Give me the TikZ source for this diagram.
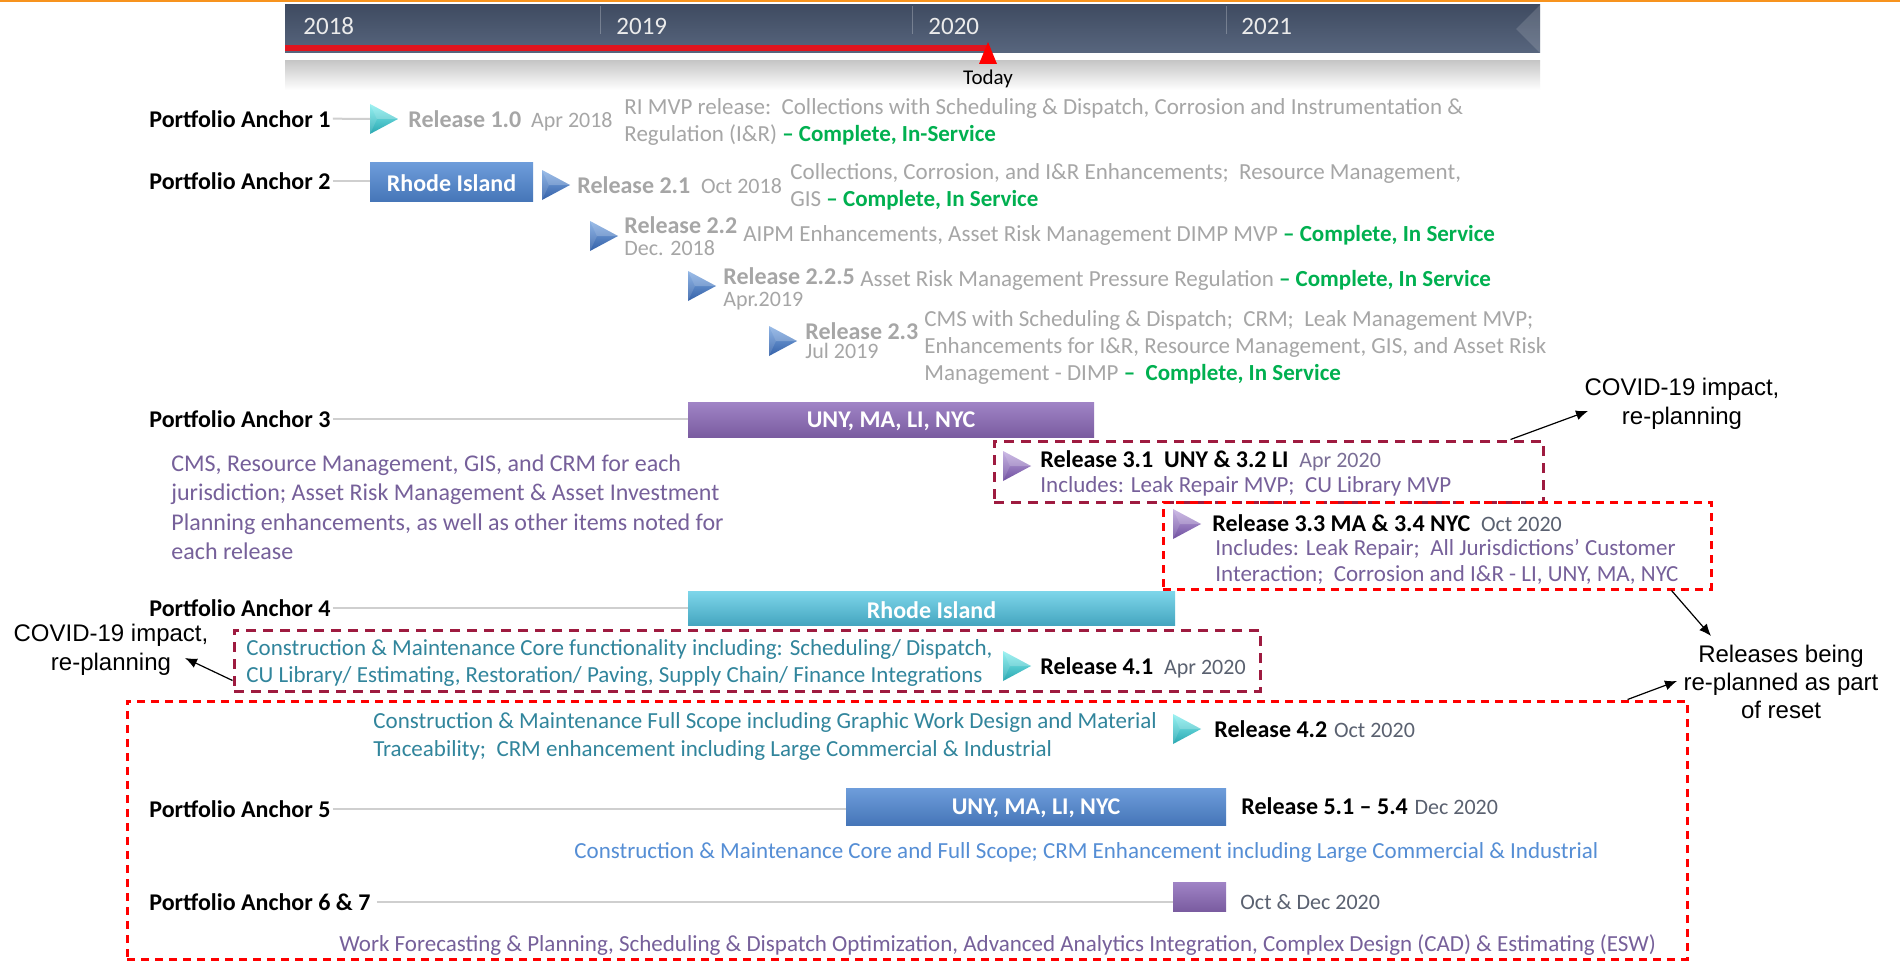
\documentclass[tikz,border=0pt]{standalone}
\usepackage{fontspec}
\setmainfont{Carlito}
\newfontfamily\arialfont{Liberation Sans}
\usetikzlibrary{arrows.meta,calc,fit}

\definecolor{orangeline}{HTML}{F7931E}
\definecolor{slatetop}{HTML}{3F4B61}
\definecolor{slatebot}{HTML}{58667E}
\definecolor{todayred}{HTML}{E0141E}
\definecolor{txtgray}{HTML}{A6A6A6}
\definecolor{okgreen}{HTML}{00B050}
\definecolor{purptxt}{HTML}{76609A}
\definecolor{tealtxt}{HTML}{31859C}
\definecolor{bluetxt}{HTML}{558ED5}
\definecolor{datetxt}{HTML}{5A6170}
\definecolor{datepurp}{HTML}{7A6E96}
\definecolor{maroonline}{HTML}{9E1B40}
\definecolor{linkgray}{HTML}{CFCFCF}
\definecolor{blueA}{HTML}{6E9DDB}
\definecolor{blueB}{HTML}{4676B8}
\definecolor{purpA}{HTML}{A084C6}
\definecolor{purpB}{HTML}{7A5CA0}
\definecolor{tealA}{HTML}{7ED6EA}
\definecolor{tealB}{HTML}{45A6C0}
\definecolor{ttealA}{HTML}{86EFEF}
\definecolor{ttealB}{HTML}{29A7B1}
\definecolor{tblueA}{HTML}{7FAAE2}
\definecolor{tblueB}{HTML}{3461A8}
\definecolor{tpurpA}{HTML}{BFA8DE}
\definecolor{tpurpB}{HTML}{7050A0}

\newcommand{\done}[1]{{\color{okgreen}\bfseries #1}}

\tikzset{
  txt/.style={anchor=base west, inner sep=0pt},
  anchorlbl/.style={txt, font=\bfseries\fontsize{12}{14}\selectfont},
  relname/.style={txt, font=\bfseries\fontsize{12}{14}\selectfont},
  reldate/.style={txt, font=\fontsize{11}{13}\selectfont},
  % multi-line notes are placed by the baseline of their last line
  desc/.style={txt, align=left, font=\fontsize{11.5}{13.4}\selectfont},
  yearlbl/.style={txt, text=white!92!black, font=\fontsize{12.5}{14}\selectfont},
  link/.style={draw=linkgray, line width=1pt},
  bar/.style={inner sep=0pt},
  barlbl/.style={inner sep=0pt, yshift=-1pt, text=white, font=\bfseries\fontsize{12}{14}\selectfont},
  bluebar/.style={bar, top color=blueA, bottom color=blueB},
  purpbar/.style={bar, top color=purpA, bottom color=purpB},
  tealbar/.style={bar, top color=tealA, bottom color=tealB},
  maroonbox/.style={draw=maroonline, line width=1.5pt, dash pattern=on 5pt off 3.5pt, inner sep=0pt},
  redbox/.style={draw=red, line width=1.5pt, dash pattern=on 4pt off 3pt, inner sep=0pt},
  note/.style={font=\arialfont\fontsize{12}{14.5}\selectfont, align=center, inner sep=0pt},
  callout/.style={draw=black, line width=0.6pt, -{Latex[length=6pt,width=5pt]}},
  pics/reltri/.style 2 args={code={
    \shade[top color=#1, bottom color=#2] (0,-15) -- (28,0) -- (0,15) -- cycle;
    \fill[white, opacity=0.22] (0,-15) -- (28,0) -- (7,0) -- cycle;
    \fill[white, opacity=0.12] (0,-15) -- (7,0) -- (0,15) -- cycle;
  }},
}

\begin{document}
\begin{tikzpicture}[x=0.5pt, y=-0.5pt]
\useasboundingbox (0,0) rectangle (1900,963);
\fill[white] (0,0) rectangle (1900,963);

% top rule
\fill[orangeline] (0,0) rectangle (1900,2.5);

% ---------- timeline band ----------
\shade[top color=slatetop, bottom color=slatebot] (285,5) rectangle (1540,53);
\fill[white, opacity=0.14] (1540,5) -- (1516,29) -- (1540,53) -- cycle;
\shade[top color=black!22, bottom color=white] (285,61) rectangle (1540,90);
\fill[todayred] (285,45) rectangle (988,51);
\foreach \xx in {600,912,1226}
  \draw[white, opacity=0.25, line width=0.5pt] (\xx,6) -- (\xx,34);
\node[yearlbl] (y18) at (303,35) {2018};
\node[yearlbl] (y19) at (616,35) {2019};
\node[yearlbl] (y20) at (928,35) {2020};
\node[yearlbl] (y21) at (1241,35) {2021};
\fill[red] (988,42) -- (997,64) -- (979,64) -- cycle;
\node[anchor=base, inner sep=0pt, font=\fontsize{10.5}{12}\selectfont] (today) at (988,85) {Today};

% ---------- Portfolio Anchor 1 ----------
\node[anchorlbl] (a1) at (149,127) {Portfolio Anchor 1};
\pic at (370,119) {reltri={ttealA}{ttealB}};
\coordinate (t10) at (370,119);
\draw[link] ([xshift=1pt]a1.east) -- (t10);
\node[relname, text=txtgray] (r10) at (408,127) {Release 1.0};
\node[reldate, text=txtgray] (r10d) at ([xshift=4.5pt]r10.base east) {Apr 2018};
\node[desc, text=txtgray, font=\fontsize{11.5}{13.25}\selectfont] (d10) at (624,141)
  {RI MVP release:\ \ Collections with Scheduling \& Dispatch, Corrosion and Instrumentation \&\\
   Regulation (I\&R) \done{– Complete, In-Service}};

% ---------- Portfolio Anchor 2 ----------
\node[anchorlbl] (a2) at (149,189) {Portfolio Anchor 2};
\node[bluebar, fit={(370,162) (533,201)}] (ri2) {};
\node[barlbl] (ri2l) at (ri2.center) {Rhode Island};
\draw[link] ([xshift=1pt]a2.east) -- (a2.east -| ri2.west);
\pic at (542,185) {reltri={tblueA}{tblueB}};
\node[relname, text=txtgray] (r21) at (577,193) {Release 2.1};
\node[reldate, text=txtgray] (r21d) at ([xshift=5pt]r21.base east) {Oct 2018};
\node[desc, text=txtgray, font=\fontsize{11.5}{13.5}\selectfont] (d21) at (790,206.5)
  {Collections, Corrosion, and I\&R Enhancements;\ \ Resource Management,\\
   GIS \done{– Complete, In Service}};

\pic at (590,236) {reltri={tblueA}{tblueB}};
\node[relname, text=txtgray] (r22) at (624,233) {Release 2.2};
\node[reldate, text=txtgray] (r22d) at (624,255) {Dec. 2018};
\node[desc, text=txtgray] (d22) at (743,241.5)
  {AIPM Enhancements, Asset Risk Management DIMP MVP \done{– Complete, In Service}};

\pic at (688,286) {reltri={tblueA}{tblueB}};
\node[relname, text=txtgray] (r225) at (723,284) {Release 2.2.5};
\node[reldate, text=txtgray] (r225d) at (723,306) {Apr.2019};
\node[desc, text=txtgray] (d225) at (860,286.5)
  {Asset Risk Management Pressure Regulation \done{– Complete, In Service}};

\pic at (769,341) {reltri={tblueA}{tblueB}};
\node[relname, text=txtgray] (r23) at (805,339) {Release 2.3};
\node[reldate, text=txtgray] (r23d) at (805,358) {Jul 2019};
\node[desc, text=txtgray, font=\fontsize{11.5}{13.6}\selectfont] (d23) at (924,380.5)
  {CMS with Scheduling \& Dispatch;\ \ CRM;\ \ Leak Management MVP;\\
   Enhancements for I\&R, Resource Management, GIS, and Asset Risk\\
   Management - DIMP \done{–\ \ Complete, In Service}};

% ---------- Portfolio Anchor 3 ----------
\node[anchorlbl] (a3) at (149,427) {Portfolio Anchor 3};
\node[purpbar, fit={(688,402) (1094,437)}] (pb3) {};
\node[barlbl] (pb3l) at (pb3.center) {UNY, MA, LI, NYC};
\draw[link] ([xshift=1pt]a3.east) -- (a3.east -| pb3.west);
\node[desc, text=purptxt, font=\fontsize{12}{14.75}\selectfont] (d3) at (171,559.5)
  {CMS, Resource Management, GIS, and CRM for each\\
   jurisdiction; Asset Risk Management \& Asset Investment\\
   Planning enhancements, as well as other items noted for\\
   each release};

\node[maroonbox, fit={(994,441) (1543,502)}] (box31) {};
\pic at (1003,466) {reltri={tpurpA}{tpurpB}};
\node[relname] (r31) at (1040,467) {Release 3.1\ \ UNY \& 3.2 LI};
\node[reldate, text=datepurp] (r31d) at ([xshift=5pt]r31.base east) {Apr 2020};
\node[desc, text=purptxt] (d31) at (1040,492.5) {Includes: Leak Repair MVP;\ \ CU Library MVP};

\node[note] (cov1) at (1682,404) {COVID-19 impact,\\re-planning};
\coordinate (cov1tip) at (1588,411);
\draw[callout] ($(box31.north east)+(-34,0)$) -- (cov1tip);

\node[redbox, fit={(1163,502) (1711,589)}] (box33) {};
\pic at (1173,524) {reltri={tpurpA}{tpurpB}};
\node[relname] (r33) at (1212,531) {Release 3.3 MA \& 3.4 NYC};
\node[reldate, text=datetxt] (r33d) at ([xshift=5pt]r33.base east) {Oct 2020};
\node[desc, text=purptxt, font=\fontsize{11.5}{13.3}\selectfont] (d33) at (1215,581.6)
  {Includes: Leak Repair;\ \ All Jurisdictions’ Customer\\
   Interaction;\ \ Corrosion and I\&R - LI, UNY, MA, NYC};

\node[note, font=\arialfont\fontsize{12}{14}\selectfont] (reset) at (1781,682)
  {Releases being\\re-planned as part\\of reset};
\coordinate (resettip1) at (1711,636);
\coordinate (resettip2) at (1677,681);
\draw[callout] ($(box33.south east)+(-41,0)$) -- (resettip1);

% ---------- Portfolio Anchor 4 ----------
\node[anchorlbl] (a4) at (149,616) {Portfolio Anchor 4};
\node[tealbar, fit={(688,591) (1175,625)}] (tb4) {};
\node[barlbl] (tb4l) at (tb4.center) {Rhode Island};
\draw[link] ([xshift=1pt]a4.east) -- (a4.east -| tb4.west);

\node[maroonbox, fit={(234,630) (1260,691)}] (box41) {};
\node[desc, text=tealtxt, font=\fontsize{11.5}{13.5}\selectfont] (d41) at (246,682.5)
  {Construction \& Maintenance Core functionality including: Scheduling/ Dispatch,\\
   CU Library/ Estimating, Restoration/ Paving, Supply Chain/ Finance Integrations};
\pic at (1003,666) {reltri={ttealA}{ttealB}};
\node[relname] (r41) at (1040,674) {Release 4.1};
\node[reldate, text=datetxt] (r41d) at ([xshift=5pt]r41.base east) {Apr 2020};

\node[note] (cov2) at (111,649.5) {COVID-19 impact,\\re-planning};
\coordinate (cov2tip) at (185,658);
\draw[callout] ($(box41.south west)+(0,-12)$) -- (cov2tip);

% ---------- reset scope ----------
\node[redbox, fit={(127,701) (1687,959)}] (resetbox) {};
\draw[callout] ($(resetbox.north east)+(-61,0)$) -- (resettip2);

\node[desc, text=tealtxt, font=\fontsize{11.5}{14}\selectfont] (d42) at (373,756.5)
  {Construction \& Maintenance Full Scope including Graphic Work Design and Material\\
   Traceability;\ \ CRM enhancement including Large Commercial \& Industrial};
\pic at (1173,729) {reltri={ttealA}{ttealB}};
\node[relname] (r42) at (1214,737) {Release 4.2};
\node[reldate, text=datetxt] (r42d) at ([xshift=3pt]r42.base east) {Oct 2020};

% ---------- Portfolio Anchor 5 ----------
\node[anchorlbl] (a5) at (149,817) {Portfolio Anchor 5};
\node[bluebar, fit={(846,788) (1226,825)}] (bb5) {};
\node[barlbl] (bb5l) at (bb5.center) {UNY, MA, LI, NYC};
\draw[link] ([xshift=1pt]a5.east) -- (a5.east -| bb5.west);
\node[relname] (r51) at (1241,814) {Release 5.1 – 5.4};
\node[reldate, text=datetxt] (r51d) at ([xshift=3pt]r51.base east) {Dec 2020};
\node[desc, text=bluetxt] (d51) at (574,858.5)
  {Construction \& Maintenance Core and Full Scope; CRM Enhancement including Large Commercial \& Industrial};

% ---------- Portfolio Anchor 6 & 7 ----------
\node[anchorlbl] (a6) at (149,910) {Portfolio Anchor 6 \& 7};
\node[purpbar, fit={(1173,882) (1226,911)}] (pq6) {};
\draw[link] ([xshift=3pt]a6.east) -- (a6.east -| pq6.west);
\node[reldate, text=datetxt] (r6d) at (1240,909) {Oct \& Dec 2020};
\node[desc, text=purptxt] (d6) at (339,951.5)
  {Work Forecasting \& Planning, Scheduling \& Dispatch Optimization, Advanced Analytics Integration, Complex Design (CAD) \& Estimating (ESW)};

\end{tikzpicture}
\end{document}
